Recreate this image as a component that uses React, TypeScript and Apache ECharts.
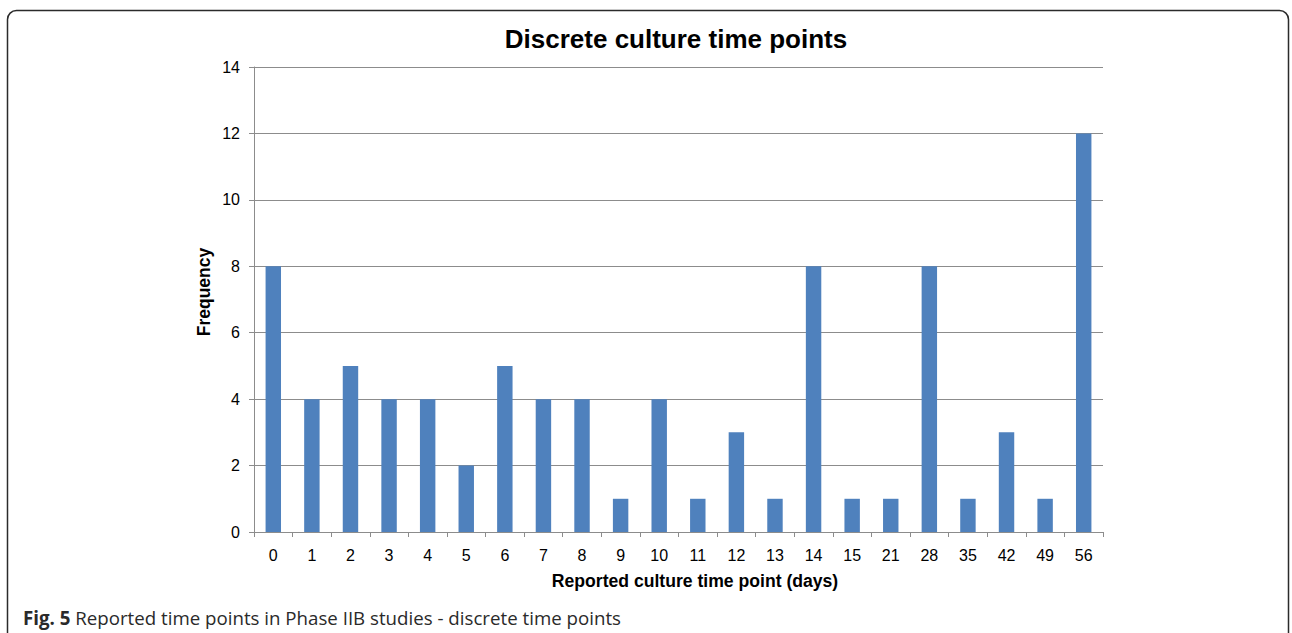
import React, { useEffect, useRef } from "react";
import * as echarts from "echarts";

const categories = ["0", "1", "2", "3", "4", "5", "6", "7", "8", "9", "10", "11", "12", "13", "14", "15", "21", "28", "35", "42", "49", "56"];
const frequency = [8, 4, 5, 4, 4, 2, 5, 4, 4, 1, 4, 1, 3, 1, 8, 1, 1, 8, 1, 3, 1, 12];
const titleText = "Discrete culture time points";
const xAxisName = "Reported culture time point (days)";
const yAxisName = "Frequency";
const captionBold = "Fig. 5";
const captionRest = " Reported time points in Phase IIB studies - discrete time points";

export default function App() {
  const ref = useRef<HTMLDivElement>(null);
  useEffect(() => {
    if (!ref.current) return;
    const chart = echarts.init(ref.current, null, { renderer: "svg" });
    const font = "Liberation Sans, Arial, Helvetica, sans-serif";
    chart.setOption({
      animation: false,
      backgroundColor: "#ffffff",
      title: {
        text: titleText,
        left: 671,
        top: 21,
        textAlign: "center",
        textStyle: { fontFamily: font, fontSize: 26, fontWeight: "bold", color: "#000" },
      },
      grid: { left: 254, right: 189, top: 67, bottom: 101, containLabel: false },
      xAxis: {
        type: "category",
        data: categories,
        axisLine: { lineStyle: { color: "#8c8c8c", width: 1 } },
        axisTick: { show: true, length: 5, inside: false, lineStyle: { color: "#8c8c8c" } },
        axisLabel: { fontFamily: font, fontSize: 16, color: "#000", margin: 15 },
        splitLine: { show: false },
      },
      yAxis: {
        type: "value",
        min: 0,
        max: 14,
        interval: 2,
        axisLine: { show: true, lineStyle: { color: "#8c8c8c", width: 1 } },
        axisTick: { show: true, length: 5, lineStyle: { color: "#8c8c8c" } },
        axisLabel: { fontFamily: font, fontSize: 16, color: "#000", margin: 14 },
        splitLine: { show: true, lineStyle: { color: "#8c8c8c", width: 1 } },
      },
      series: [
        {
          type: "bar",
          data: frequency,
          barWidth: "40%",
          itemStyle: { color: "#4f81bd" },
        },
      ],
      graphic: [
        {
          type: "rect",
          shape: { x: 7.5, y: 10.5, width: 1281, height: 660, r: 9 },
          style: { fill: "none", stroke: "#2b2b2b", lineWidth: 1.5 },
          silent: true,
        },
        {
          type: "text",
          x: 695,
          y: 581,
          style: {
            text: xAxisName,
            fontFamily: font,
            fontSize: 17.6,
            fontWeight: "bold",
            fill: "#000",
            align: "center",
            verticalAlign: "middle",
          },
        },
        {
          type: "text",
          x: 204,
          y: 292,
          rotation: Math.PI / 2,
          style: {
            text: yAxisName,
            fontFamily: font,
            fontSize: 17.5,
            fontWeight: "bold",
            fill: "#000",
            align: "center",
            verticalAlign: "middle",
          },
        },
        {
          type: "text",
          x: 23,
          y: 617,
          style: {
            text: "{b|" + captionBold + "}{r|" + captionRest + "}",
            verticalAlign: "middle",
            align: "left",
            rich: {
              b: { fontFamily: "Open Sans, sans-serif", fontSize: 18.7, fontWeight: "bold", fill: "#2a2a2a" },
              r: { fontFamily: "Open Sans, sans-serif", fontSize: 18.7, fill: "#2a2a2a" },
            },
          },
        },
      ],
    });
    return () => chart.dispose();
  }, []);
  return <div ref={ref} style={{ position: "absolute", left: 0, top: 0, width: 1292, height: 633 }} />;
}
